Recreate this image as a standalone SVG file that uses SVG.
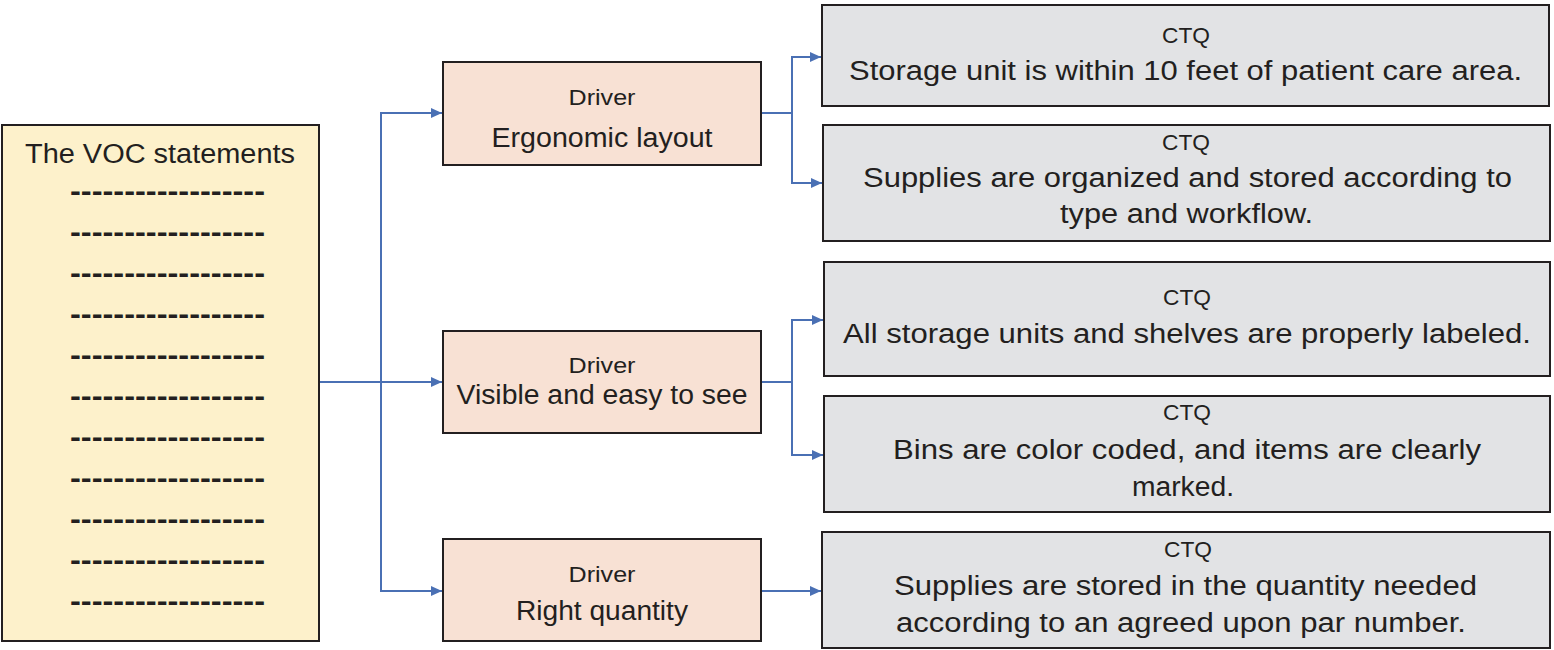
<svg xmlns="http://www.w3.org/2000/svg" width="1554" height="650" viewBox="0 0 1554 650">
<style>
text { font-family: "Liberation Sans", Arial, sans-serif; fill: #231f20; text-anchor: middle; }
.voc { fill: #fdf1cb; stroke: #231f20; stroke-width: 2; }
.drv { fill: #f8e1d4; stroke: #231f20; stroke-width: 2; }
.ctq { fill: #e2e3e5; stroke: #231f20; stroke-width: 2; }
.big { font-size: 27px; }
.small { font-size: 22px; }
.dash { font-size: 29px; font-weight: bold; text-anchor: start; }
.conn { fill: none; stroke: #4a70b4; stroke-width: 2; }
</style>
<defs>
<marker id="arr" markerUnits="userSpaceOnUse" markerWidth="12" markerHeight="11" refX="11" refY="5" orient="auto">
<path d="M0,0 L11,5 L0,10 Z" fill="#4a70b4"/>
</marker>
</defs>

<g id="connectors">
<path class="conn" d="M319,382 H442" marker-end="url(#arr)"/>
<path class="conn" d="M381,382 V113 H442" marker-end="url(#arr)"/>
<path class="conn" d="M381,382 V591 H442" marker-end="url(#arr)"/>
<path class="conn" d="M761,113 H792 V57 H821" marker-end="url(#arr)"/>
<path class="conn" d="M792,113 V183 H822" marker-end="url(#arr)"/>
<path class="conn" d="M761,382 H792 V320 H823" marker-end="url(#arr)"/>
<path class="conn" d="M792,382 V455 H823" marker-end="url(#arr)"/>
<path class="conn" d="M761,591 H821" marker-end="url(#arr)"/>
</g>

<g id="voc">
<rect class="voc" x="2" y="125" width="317" height="516"/>
<text class="big" x="160" y="163" font-size="28" textLength="270" lengthAdjust="spacingAndGlyphs">The VOC statements</text>
<text class="dash" x="70" y="201" textLength="195" lengthAdjust="spacingAndGlyphs">------------------</text>
<text class="dash" x="70" y="242" textLength="195" lengthAdjust="spacingAndGlyphs">------------------</text>
<text class="dash" x="70" y="283" textLength="195" lengthAdjust="spacingAndGlyphs">------------------</text>
<text class="dash" x="70" y="324" textLength="195" lengthAdjust="spacingAndGlyphs">------------------</text>
<text class="dash" x="70" y="365" textLength="195" lengthAdjust="spacingAndGlyphs">------------------</text>
<text class="dash" x="70" y="406" textLength="195" lengthAdjust="spacingAndGlyphs">------------------</text>
<text class="dash" x="70" y="447" textLength="195" lengthAdjust="spacingAndGlyphs">------------------</text>
<text class="dash" x="70" y="488" textLength="195" lengthAdjust="spacingAndGlyphs">------------------</text>
<text class="dash" x="70" y="529" textLength="195" lengthAdjust="spacingAndGlyphs">------------------</text>
<text class="dash" x="70" y="570" textLength="195" lengthAdjust="spacingAndGlyphs">------------------</text>
<text class="dash" x="70" y="611" textLength="195" lengthAdjust="spacingAndGlyphs">------------------</text>
</g>

<g id="driver1">
<rect class="drv" x="443" y="62" width="318" height="103"/>
<text class="small" x="602" y="105" textLength="67" lengthAdjust="spacingAndGlyphs">Driver</text>
<text class="big" x="602" y="147" textLength="221" lengthAdjust="spacingAndGlyphs">Ergonomic layout</text>
</g>

<g id="driver2">
<rect class="drv" x="443" y="331" width="318" height="102"/>
<text class="small" x="602" y="373" textLength="67" lengthAdjust="spacingAndGlyphs">Driver</text>
<text class="big" x="602" y="404" textLength="291" lengthAdjust="spacingAndGlyphs">Visible and easy to see</text>
</g>

<g id="driver3">
<rect class="drv" x="443" y="539" width="318" height="102"/>
<text class="small" x="602" y="582" textLength="67" lengthAdjust="spacingAndGlyphs">Driver</text>
<text class="big" x="602" y="620" textLength="172" lengthAdjust="spacingAndGlyphs">Right quantity</text>
</g>

<g id="ctq1">
<rect class="ctq" x="822" y="5" width="727" height="101"/>
<text class="small" x="1186" y="43" textLength="48" lengthAdjust="spacingAndGlyphs">CTQ</text>
<text class="big" x="1185.5" y="80" textLength="673" lengthAdjust="spacingAndGlyphs">Storage unit is within 10 feet of patient care area.</text>
</g>

<g id="ctq2">
<rect class="ctq" x="823" y="125" width="727" height="116"/>
<text class="small" x="1186" y="150" textLength="48" lengthAdjust="spacingAndGlyphs">CTQ</text>
<text class="big" x="1187.5" y="187" textLength="649" lengthAdjust="spacingAndGlyphs">Supplies are organized and stored according to</text>
<text class="big" x="1186.5" y="223" textLength="253" lengthAdjust="spacingAndGlyphs">type and workflow.</text>
</g>

<g id="ctq3">
<rect class="ctq" x="824" y="262" width="726" height="114"/>
<text class="small" x="1187" y="305" textLength="48" lengthAdjust="spacingAndGlyphs">CTQ</text>
<text class="big" x="1187" y="343" textLength="688" lengthAdjust="spacingAndGlyphs">All storage units and shelves are properly labeled.</text>
</g>

<g id="ctq4">
<rect class="ctq" x="824" y="396" width="726" height="116"/>
<text class="small" x="1187" y="420" textLength="48" lengthAdjust="spacingAndGlyphs">CTQ</text>
<text class="big" x="1187" y="459" textLength="588" lengthAdjust="spacingAndGlyphs">Bins are color coded, and items are clearly</text>
<text class="big" x="1183" y="496" textLength="102" lengthAdjust="spacingAndGlyphs">marked.</text>
</g>

<g id="ctq5">
<rect class="ctq" x="822" y="532" width="728" height="116"/>
<text class="small" x="1188" y="557" textLength="48" lengthAdjust="spacingAndGlyphs">CTQ</text>
<text class="big" x="1185.5" y="595" textLength="583" lengthAdjust="spacingAndGlyphs">Supplies are stored in the quantity needed</text>
<text class="big" x="1181" y="632" textLength="570" lengthAdjust="spacingAndGlyphs">according to an agreed upon par number.</text>
</g>
</svg>
